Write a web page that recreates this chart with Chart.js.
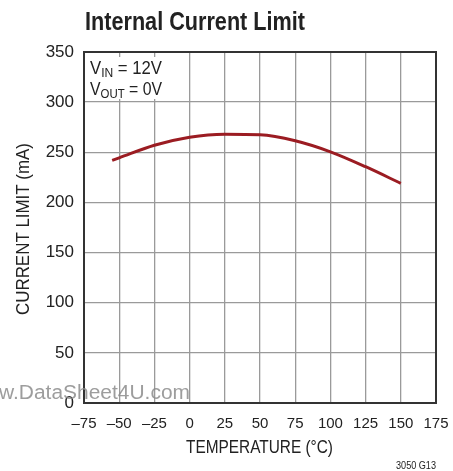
<!DOCTYPE html>
<html>
<head>
<meta charset="utf-8">
<script src="https://cdn.jsdelivr.net/npm/chart.js@4.4.1/dist/chart.umd.min.js"></script>
<style>
  html, body { margin: 0; padding: 0; background: #fff; }
  #wrap { width: 453px; height: 471px; }
</style>
</head>
<body>
<div id="wrap"><canvas id="chartLimit" width="453" height="471"></canvas></div>
<script>
// ── Données ─────────────────────────────────────────────
const temps = [-55, -50, -25, 0, 25, 50, 75, 100, 125, 150];
const currentLimit = [242, 244.5, 257, 265, 268, 267.5, 261.5, 250.5, 235.6, 219];
const xTicks = [-75, -50, -25, 0, 25, 50, 75, 100, 125, 150, 175];
const yTicks = [0, 50, 100, 150, 200, 250, 300, 350];

const SANS = '"Liberation Sans", Arial, sans-serif';
const GRID = '#9a9a9a';
const DARK = '#333333';

// texte compressé horizontalement pour coller à une largeur donnée
const fitText = (ctx, txt, x, y, width, font) => {
    ctx.font = font;
    const w = ctx.measureText(txt).width;
    ctx.save();
    ctx.translate(x, y);
    ctx.scale(width / w, 1);
    ctx.fillText(txt, 0, 0);
    ctx.restore();
};

// V + indice + reste, ajusté à une largeur
const subText = (ctx, x, y, width, main, s, rest) => {
    const big = '18px ' + SANS, small = '13px ' + SANS;
    ctx.font = big;
    const w1 = ctx.measureText(main).width, w3 = ctx.measureText(rest).width;
    ctx.font = small;
    const w2 = ctx.measureText(s).width;
    ctx.save();
    ctx.translate(x, y);
    ctx.scale(width / (w1 + w2 + w3), 1);
    ctx.font = big;
    ctx.fillText(main, 0, 0);
    ctx.fillText(rest, w1 + w2, 0);
    ctx.font = small;
    ctx.fillText(s, w1, 3);
    ctx.restore();
};

// ── Textes et cadre dessinés à la main ──────────────────
const decor = {
    id: 'decor',
    beforeDatasetsDraw(chart) {
        const { ctx, chartArea: a } = chart;
        ctx.save();
        // encadré des conditions
        ctx.fillStyle = '#fff';
        ctx.fillRect(a.left + 2, a.top + 5, 88, 42);
        // cadre
        ctx.strokeStyle = DARK;
        ctx.lineWidth = 2;
        ctx.strokeRect(a.left, a.top, a.right - a.left, a.bottom - a.top);

        ctx.fillStyle = '#222';
        ctx.textBaseline = 'alphabetic';
        subText(ctx, a.left + 6, a.top + 22, 72, 'V', 'IN', ' = 12V');
        subText(ctx, a.left + 6, a.top + 43, 72, 'V', 'OUT', ' = 0V');
        ctx.restore();
    },
    afterDraw(chart) {
        const { ctx } = chart;
        ctx.save();
        ctx.fillStyle = '#222';
        ctx.textAlign = 'left';
        ctx.textBaseline = 'alphabetic';
        fitText(ctx, 'Internal Current Limit', 85, 30, 220, 'bold 25px ' + SANS);
        fitText(ctx, 'TEMPERATURE (°C)', 186, 453, 147, '18px ' + SANS);

        ctx.save();
        ctx.translate(29, 315);
        ctx.rotate(-Math.PI / 2);
        fitText(ctx, 'CURRENT LIMIT (mA)', 0, 0, 172, '18px ' + SANS);
        ctx.restore();

        fitText(ctx, '3050 G13', 396, 469, 40, '11px ' + SANS);

        // filigrane
        ctx.fillStyle = 'rgba(140,140,140,0.85)';
        fitText(ctx, 'w.DataSheet4U.com', -1, 399, 191, '20px ' + SANS);
        ctx.restore();
    }
};

new Chart(document.getElementById('chartLimit'), {
    type: 'scatter',
    data: {
        datasets: [{
            data: temps.map((t, i) => ({ x: t, y: currentLimit[i] })),
            showLine: true,
            borderColor: '#9b1c22',
            borderWidth: 3,
            pointRadius: 0,
            tension: 0.4,
            cubicInterpolationMode: 'monotone'
        }]
    },
    options: {
        responsive: false,
        animation: false,
        layout: { padding: { left: 0, top: 52, right: 17, bottom: 0 } },
        plugins: { legend: { display: false }, tooltip: { enabled: false } },
        scales: {
            x: {
                type: 'linear',
                min: xTicks[0],
                max: xTicks[xTicks.length - 1],
                afterBuildTicks: s => { s.ticks = xTicks.map(v => ({ value: v })); },
                afterFit: s => { s.height = 68; s.paddingLeft = 0; s.paddingRight = 0; },
                grid: { color: GRID, lineWidth: 1.3, drawTicks: false },
                border: { display: false },
                ticks: {
                    padding: 12,
                    maxRotation: 0,
                    minRotation: 0,
                    autoSkip: false,
                    color: '#222',
                    font: { family: SANS, size: 15 },
                    callback: v => String(v).replace('-', '\u2013')
                }
            },
            y: {
                min: yTicks[0],
                max: yTicks[yTicks.length - 1],
                afterBuildTicks: s => { s.ticks = yTicks.map(v => ({ value: v })); },
                afterFit: s => { s.width = 84; s.paddingTop = 0; s.paddingBottom = 0; },
                grid: { color: GRID, lineWidth: 1.3, drawTicks: false },
                border: { display: false },
                ticks: {
                    padding: 10,
                    color: '#222',
                    font: { family: SANS, size: 17 }
                }
            }
        }
    },
    plugins: [decor]
});
</script>
</body>
</html>
